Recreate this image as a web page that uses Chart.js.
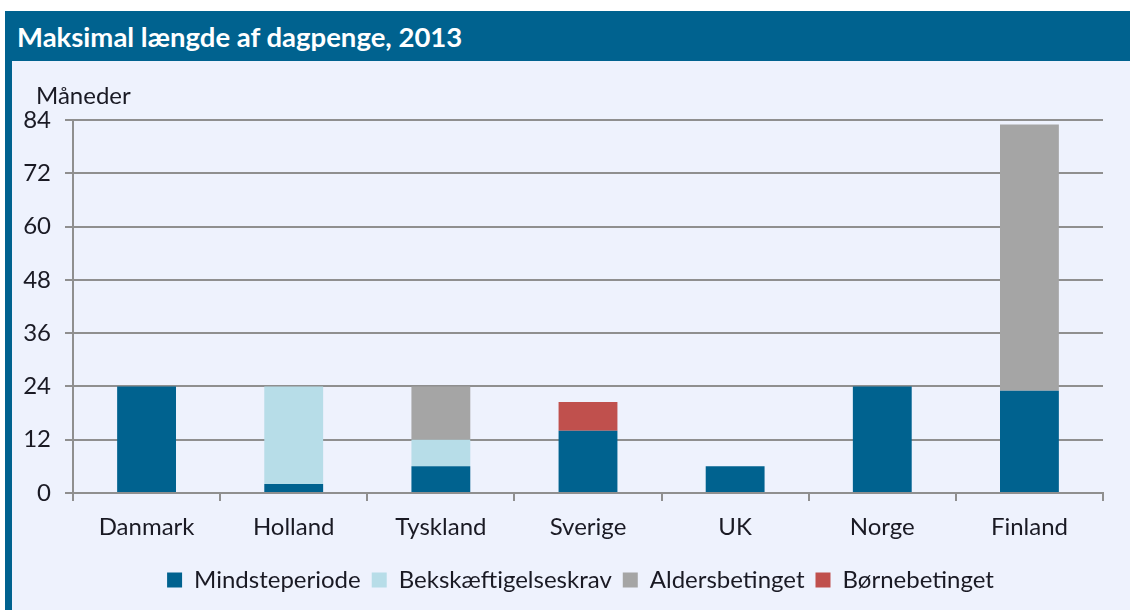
<!DOCTYPE html>
<html>
<head>
<meta charset="utf-8">
<script src="https://cdn.jsdelivr.net/npm/chart.js@4"></script>
<style>
    html, body { margin: 0; padding: 0; background: #ffffff; }
    body { width: 1130px; height: 610px; position: relative; overflow: hidden; font-family: Lato, sans-serif; }
    #titlebar {
        position: absolute; left: 5px; top: 11px; width: 1125px; height: 50px;
        background: #00628f; color: #ffffff; font-weight: bold; font-size: 27.5px;
        line-height: 52px; padding-left: 12px; box-sizing: border-box;
    }
    #leftborder { position: absolute; left: 5px; top: 61px; width: 7px; height: 549px; background: #00628f; }
    #panel { position: absolute; left: 12px; top: 61px; width: 1118px; height: 549px; background: #eef2fd; }
</style>
</head>
<body>
<div id="titlebar">Maksimal længde af dagpenge, 2013</div>
<div id="leftborder"></div>
<div id="panel"><canvas id="chart" width="1118" height="549"></canvas></div>
<script>
// Data (months)
const countries = ['Danmark', 'Holland', 'Tyskland', 'Sverige', 'UK', 'Norge', 'Finland'];
const mindsteperiode = [24, 2, 6, 14, 6, 24, 23];
const beskaeftigelseskrav = [0, 22, 6, 0, 0, 0, 0];
const aldersbetinget = [0, 0, 12, 0, 0, 0, 60];
const boernebetinget = [0, 0, 0, 6.5, 0, 0, 0];
const yTicks = [0, 12, 24, 36, 48, 60, 72, 84];
const yUnit = 'Måneder';

const textColor = '#1a1a24';
const gridColor = '#8f8f8f';

// draws the unit label above the y axis, and nudges the legend
// so it sits centred under the plot like the original
const unitLabel = {
    id: 'unitLabel',
    afterLayout(chart) {
        const shift = 23;
        chart.legend.left += shift;
        chart.legend.right += shift;
    },
    afterDraw(chart) {
        const ctx = chart.ctx;
        ctx.save();
        ctx.font = '24px Lato';
        ctx.fillStyle = textColor;
        ctx.textAlign = 'left';
        ctx.textBaseline = 'middle';
        ctx.fillText(yUnit, 24, chart.chartArea.top - 24);
        ctx.restore();
    }
};

function makeSet(label, data, color) {
    return {
        label: label,
        data: data,
        backgroundColor: color,
        borderWidth: 0,
        barPercentage: 0.4,
        categoryPercentage: 1.0
    };
}

new Chart(document.getElementById('chart'), {
    type: 'bar',
    data: {
        labels: countries,
        datasets: [
            makeSet('Mindsteperiode', mindsteperiode, '#00628f'),
            makeSet('Bekskæftigelseskrav', beskaeftigelseskrav, '#b7dde8'),
            makeSet('Aldersbetinget', aldersbetinget, '#a5a5a5'),
            makeSet('Børnebetinget', boernebetinget, '#c0504d')
        ]
    },
    options: {
        responsive: false,
        animation: false,
        layout: { padding: { left: 0, right: 27, top: 59, bottom: 8 } },
        plugins: {
            legend: {
                position: 'bottom',
                labels: {
                    boxWidth: 15,
                    boxHeight: 15,
                    padding: 11,
                    color: textColor,
                    font: { family: 'Lato', size: 24 }
                }
            },
            tooltip: { enabled: false }
        },
        scales: {
            x: {
                stacked: true,
                border: { color: gridColor, width: 2 },
                grid: {
                    offset: true,
                    drawOnChartArea: false,
                    drawTicks: true,
                    tickLength: 8,
                    color: gridColor,
                    lineWidth: 2
                },
                ticks: {
                    color: textColor,
                    padding: 12,
                    font: { family: 'Lato', size: 24 }
                },
                afterFit(scale) { scale.height = 64; }
            },
            y: {
                stacked: true,
                min: yTicks[0],
                max: yTicks[yTicks.length - 1],
                afterBuildTicks(scale) {
                    scale.ticks = yTicks.map(v => ({ value: v }));
                },
                border: { color: gridColor, width: 2 },
                grid: {
                    color: gridColor,
                    lineWidth: 2,
                    tickLength: 8
                },
                ticks: {
                    color: textColor,
                    padding: 14,
                    font: { family: 'Lato', size: 24 }
                },
                afterFit(scale) { scale.width = 61; }
            }
        }
    },
    plugins: [unitLabel]
});
</script>
</body>
</html>
